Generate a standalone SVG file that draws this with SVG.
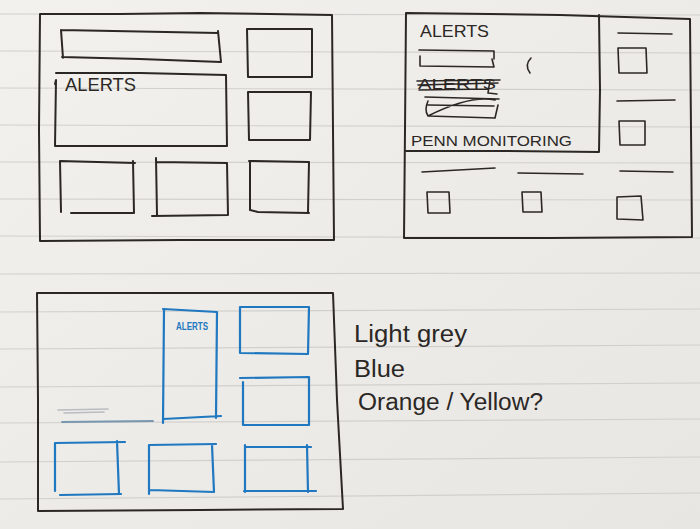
<svg xmlns="http://www.w3.org/2000/svg" width="700" height="529" viewBox="0 0 700 529">
  <defs>
    <linearGradient id="paper" x1="0" y1="0" x2="1" y2="1">
      <stop offset="0" stop-color="#f2f1ee"/>
      <stop offset="1" stop-color="#e8e6e2"/>
    </linearGradient>
    <style>
      .rule { stroke: #d2d0cd; stroke-width: 1.2; fill: none; }
      .ink { stroke: #2b2725; stroke-width: 2; fill: none; stroke-linecap: round; stroke-linejoin: round; }
      .thin { stroke: #2b2725; stroke-width: 1.6; fill: none; stroke-linecap: round; stroke-linejoin: round; }
      .blue { stroke: #1f78c0; stroke-width: 2.2; fill: none; stroke-linecap: round; stroke-linejoin: round; }
      .hand { font-family: "Liberation Sans", "DejaVu Sans", sans-serif; fill: #2b2725; }
    </style>
  </defs>

  <!-- lined paper -->
  <rect width="700" height="529" fill="url(#paper)"/>
  <g id="rules">
    <line class="rule" x1="0" y1="14" x2="700" y2="15"/>
    <line class="rule" x1="0" y1="51" x2="700" y2="53"/>
    <line class="rule" x1="0" y1="88" x2="700" y2="90"/>
    <line class="rule" x1="0" y1="125" x2="700" y2="127"/>
    <line class="rule" x1="0" y1="162" x2="700" y2="163"/>
    <line class="rule" x1="0" y1="199" x2="700" y2="200"/>
    <line class="rule" x1="0" y1="236" x2="700" y2="238"/>
    <line class="rule" x1="0" y1="274" x2="700" y2="273"/>
    <line class="rule" x1="0" y1="312" x2="700" y2="309"/>
    <line class="rule" x1="0" y1="349" x2="700" y2="345"/>
    <line class="rule" x1="0" y1="387" x2="700" y2="383"/>
    <line class="rule" x1="0" y1="423" x2="700" y2="419"/>
    <line class="rule" x1="0" y1="462" x2="700" y2="457"/>
    <line class="rule" x1="0" y1="499" x2="700" y2="493"/>
  </g>

  <!-- Sketch 1: dashboard with alerts panel -->
  <g id="sketch-1">
    <path class="ink" d="M40,14 L120,14 L200,13 L332,15 L333,130 L334,240 L180,240 L40,241 L39,130 Z"/>
    <path class="ink" d="M61,30 L218,33 M218,31 L221,62 M62,57 L140,59 L221,62 M61,30 L63,58"/>
    <path class="ink" d="M247,29 L312,29 L312,77 L248,77 Z"/>
    <path class="ink" d="M56,73 L140,73 L226,75 L227,146 L140,146 L55,146 L56,80 L55,84"/>
    <text class="hand" x="65" y="91" font-size="18" textLength="71" lengthAdjust="spacingAndGlyphs">ALERTS</text>
    <path class="ink" d="M248,92 L311,92 L310,140 L249,140 Z"/>
    <path class="ink" d="M60,161 L135,163 M133,161 L134,213 M60,161 L61,212 M71,213 L134,213"/>
    <path class="ink" d="M156,158 L157,215 M157,162 L227,163 L228,215 L152,216"/>
    <path class="ink" d="M249,161 L309,162 L308,212 M250,161 L250,210 L258,212 L309,213"/>
  </g>

  <!-- Sketch 2: alerts column with monitoring list -->
  <g id="sketch-2">
    <path class="ink" d="M406,13 L560,15 L690,19 L691,130 L692,237 L550,238 L404,238 L405,130 Z"/>
    <path class="ink" d="M599,15 L600,90 L599,152 M406,151 L500,151 L599,152"/>
    <text class="hand" x="420" y="37" font-size="17" textLength="69" lengthAdjust="spacingAndGlyphs">ALERTS</text>
    <path class="thin" d="M419,50 L494,51 L494,59 M420,56 L420,66 L494,67 L492,59"/>
    <path class="thin" d="M531,58 Q524,65 530,73"/>
    <text class="hand" x="418" y="89" font-size="14" textLength="78" lengthAdjust="spacingAndGlyphs">ALERTS</text>
    <path class="thin" d="M417,81 L500,80 M418,85 L498,83 M419,90 L489,89 M490,80 L488,93 L497,94 M425,97 L499,99 M428,101 Q424,110 428,116 L495,118 L498,105 M428,116 Q470,95 495,100 M428,105 L494,106"/>
    <text class="hand" x="411" y="146" font-size="15" textLength="161" lengthAdjust="spacingAndGlyphs">PENN MONITORING</text>
    <path class="thin" d="M618,33 L672,34"/>
    <path class="thin" d="M618,48 L646,48 L647,73 L619,73 Z"/>
    <path class="thin" d="M617,101 L675,100"/>
    <path class="thin" d="M619,121 L645,121 L645,145 L620,145 Z"/>
    <path class="thin" d="M620,171 L673,172"/>
    <path class="thin" d="M617,197 L641,196 L643,220 L617,219 Z"/>
    <path class="thin" d="M422,172 L495,168"/>
    <path class="thin" d="M427,192 L449,192 L450,213 L428,213 Z"/>
    <path class="thin" d="M518,173 L583,174"/>
    <path class="thin" d="M522,192 L541,192 L542,212 L523,212 Z"/>
  </g>

  <!-- Sketch 3: blue layout with tall alerts column -->
  <g id="sketch-3">
    <path class="ink" d="M37,293 L180,293 L333,293 L337,400 L343,509 L200,510 L38,511 L38,400 Z"/>
    <path class="blue" d="M163,309 L217,312 L216,418 M164,309 L163,423 M163,419 L221,416"/>
    <text x="176" y="330" font-size="10" font-weight="bold" font-family="Liberation Sans, sans-serif" fill="#1f78c0" textLength="32" lengthAdjust="spacingAndGlyphs">ALERTS</text>
    <path class="blue" d="M240,307 L309,307 L308,354 L240,353 Z"/>
    <path class="blue" d="M240,378 L309,377 L309,425 L243,425 L243,382"/>
    <path class="blue" d="M55,443 L125,442 M117,441 L119,494 M55,443 L55,491 M60,495 L121,494"/>
    <path class="blue" d="M149,445 L216,444 M212,445 L214,492 M149,445 L149,494 M150,490 L214,492"/>
    <path class="blue" d="M245,445 L245,492 M245,447 L311,447 M307,445 L308,492 M244,491 L316,491"/>
    <path d="M58,410 L108,409 M64,413 L104,412" stroke="#b9bcc0" stroke-width="1.6" fill="none" stroke-linecap="round"/>
    <path d="M62,422 L153,421" stroke="#7a97b0" stroke-width="1.8" fill="none" stroke-linecap="round"/>
  </g>

  <!-- colour notes -->
  <g id="notes">
    <text class="hand" x="354" y="342" font-size="23" textLength="113" lengthAdjust="spacingAndGlyphs">Light grey</text>
    <text class="hand" x="354" y="377" font-size="23" textLength="51" lengthAdjust="spacingAndGlyphs">Blue</text>
    <text class="hand" x="358" y="410" font-size="23" textLength="185" lengthAdjust="spacingAndGlyphs">Orange / Yellow?</text>
  </g>
</svg>
